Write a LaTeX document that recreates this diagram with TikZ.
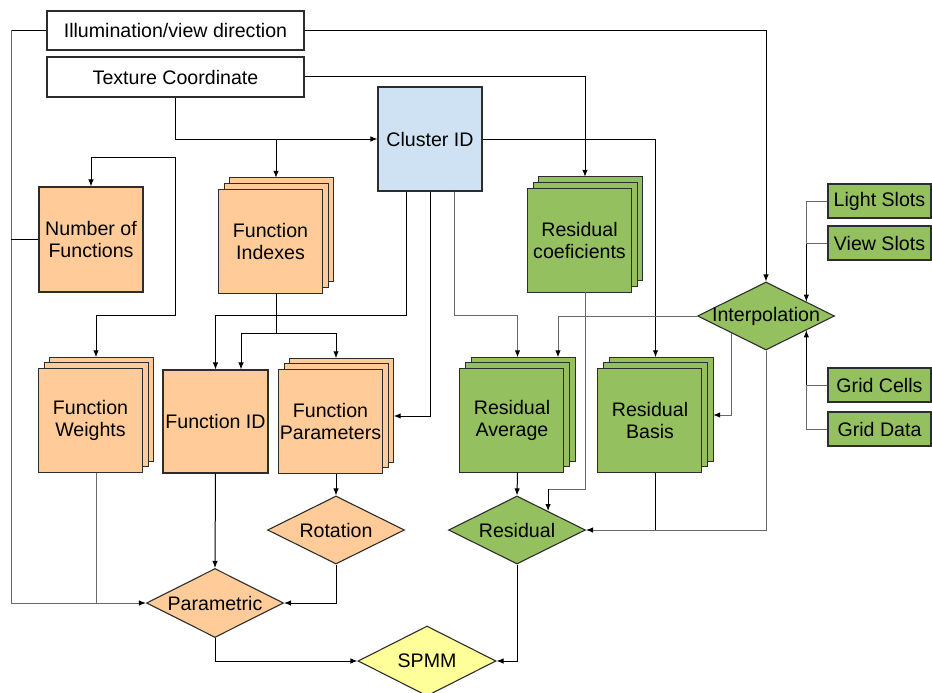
\documentclass[tikz,border=0pt]{standalone}
\usepackage{fontspec}
\setmainfont{Liberation Sans}
\usetikzlibrary{arrows.meta,calc,shapes.geometric}
\definecolor{orangef}{RGB}{255,204,153}
\definecolor{greenf}{RGB}{148,192,96}
\definecolor{bluef}{RGB}{207,226,243}
\definecolor{yellowf}{RGB}{255,255,153}
\definecolor{boxline}{RGB}{45,45,45}
\definecolor{lineg}{RGB}{105,105,105}
\newcommand{\dfont}{\fontsize{19.6}{22}\selectfont}
\tikzset{
  box/.style={draw=boxline, line width=1.1pt, inner sep=0pt, align=center, font=\dfont},
  layer/.style={draw=boxline, line width=1.1pt},
  txt/.style={inner sep=0pt, align=center, font=\dfont},
  dia/.style={draw=boxline, line width=1.1pt, shape=diamond, inner sep=0pt, minimum width=137pt, minimum height=68pt},
  conn/.style={line width=1pt, draw=black},
  conng/.style={line width=1pt, draw=lineg},
  arr/.style={-{Latex[length=7pt,width=5.5pt,color=black]}},
}
\newcommand{\mystack}[4]{%
  \node[inner sep=0pt, minimum width=115pt, minimum height=115pt] (#1) at #2 {};
  \draw[layer, fill=#3] (#1.north east) rectangle ++(-104,104);
  \draw[layer, fill=#3] ($(#1.north east)+(-5.5,5.5)$) rectangle ++(-104,104);
  \draw[layer, fill=#3] (#1.south west) rectangle ++(104,-104);
  \node[txt] at ($(#1.center)+(-5.5,5.5)$) {#4};
}
\begin{document}
\begin{tikzpicture}[x=1pt,y=-1pt]
\useasboundingbox (0,0) rectangle (932,693);
% top boxes
\node[box, minimum width=257pt, minimum height=39pt] (illum) at (175.5,30.5) {Illumination/view direction};
\node[box, minimum width=257pt, minimum height=40pt] (tex) at (175.5,77) {Texture Coordinate};
\node[box, fill=bluef, minimum width=104pt, minimum height=104pt] (cluster) at (430,139) {Cluster ID};
\node[box, fill=orangef, minimum width=104pt, minimum height=105pt] (nfun) at (91,239.5) {Number of\\Functions};
\node[box, fill=orangef, minimum width=105pt, minimum height=103pt] (fid) at (215.5,421.5) {Function ID};
% stacks
\mystack{findex}{(276,235.5)}{orangef}{Function\\Indexes}
\mystack{fweights}{(96,415)}{orangef}{Function\\Weights}
\mystack{fparams}{(336,416)}{orangef}{Function\\Parameters}
\mystack{rcoef}{(585,234.5)}{greenf}{Residual\\coeficients}
\mystack{ravg}{(517.5,415)}{greenf}{Residual\\Average}
\mystack{rbasis}{(655.5,415)}{greenf}{Residual\\Basis}
% right boxes
\node[box, fill=greenf, minimum width=103pt, minimum height=34pt] (lights) at (879.5,201) {Light Slots};
\node[box, fill=greenf, minimum width=103pt, minimum height=34pt] (views) at (879.5,243) {View Slots};
\node[box, fill=greenf, minimum width=103pt, minimum height=34pt] (gridc) at (879.5,385) {Grid Cells};
\node[box, fill=greenf, minimum width=103pt, minimum height=34pt] (gridd) at (879.5,429) {Grid Data};
% diamonds
\node[dia, fill=greenf] (interp) at (766,316) {};
\node[txt] at (interp) {Interpolation};
\node[dia, fill=greenf] (residual) at (517,530) {};
\node[txt] at (residual) {Residual};
\node[dia, fill=orangef] (rotation) at (336,530) {};
\node[txt] at (rotation) {Rotation};
\node[dia, fill=orangef, minimum height=69pt] (param) at (215,603) {};
\node[txt] at (param) {Parametric};
\node[dia, fill=yellowf, minimum width=138pt, minimum height=70pt] (spmm) at (427,661) {};
\node[txt] at (spmm) {SPMM};
% helper coordinates
\coordinate (L) at ($(illum.west)+(-35,0)$);
\coordinate (P) at ($(interp.north)!0.584!(interp.east)$);
\coordinate (Q) at ($(interp.south)!0.584!(interp.east)$);
\coordinate (R) at ($(residual.north)!0.45!(residual.east)$);
\coordinate (TB) at ($(tex.south)+(0,60)$);
\coordinate (FB) at ($(findex.south)+(0,40)$);
% illumination connectors
\draw[conn] (illum.west) -- (L);
\draw[conng, arr] (L) |- (param.west);
\draw[conn] (nfun.west) -- (nfun.west -| L);
\draw[conng] (fweights.south) -- (fweights.south |- param.west);
\draw[conn, arr] (illum.east) -| (interp.north);
% texture connectors
\draw[conn, arr] (tex.south) |- (cluster.west);
\draw[conn, arr] (TB) -| (nfun.north);
\draw[conn, arr] (TB) -- ($(tex.south)+(0,218)$) -| (fweights.north);
\draw[conn, arr] (findex.north |- cluster.west) -- (findex.north);
\draw[conn, arr] (tex.east) -| (rcoef.north);
% function indexes
\draw[conn] (findex.south) -- (FB);
\draw[conn, arr] (FB) -| ($(fid.north)+(25.5,0)$);
\draw[conn, arr] (FB) -| (fparams.north);
% cluster connectors
\draw[conn, arr] ($(cluster.south)+(-24,0)$) -- ++(0,124) -| (fid.north);
\draw[conn, arr] (cluster.south) |- (fparams.east);
\draw[conng, arr] ($(cluster.south)+(24,0)$) -- ++(0,124) -| (ravg.north);
\draw[conn, arr] (cluster.east) -| (rbasis.north);
% interpolation connectors
\draw[conng, arr] (interp.west) -| ($(ravg.north)+(40.5,0)$);
\draw[conng, arr] (interp.south west) |- (rbasis.east);
\draw[conng, arr] (interp.south) |- (residual.east);
\draw[conn] (rbasis.south) -- (rbasis.south |- residual.east);
\draw[conng] (lights.west) -| (P);
\draw[conn, arr] (views.west -| P) -- (P);
\draw[conng] (views.west) -- (views.west -| P);
\draw[conng] (gridd.west) -| (Q);
\draw[conn, arr] (gridc.west -| Q) -- (Q);
\draw[conng] (gridc.west) -- (gridc.west -| Q);
% residual
\draw[conng] (rcoef.south) |- ($(R)+(0,-22)$);
\draw[conn, arr] ($(R)+(0,-22)$) -- (R);
\draw[conn, arr] (ravg.south) -- (residual.north);
% function side
\draw[conn, arr] (fparams.south) -- (rotation.north);
\draw[conn, arr] (rotation.south) |- (param.east);
\draw[conn, arr] (fid.south) -- (param.north);
% to SPMM
\draw[conn, arr] (param.south) |- (spmm.west);
\draw[conn, arr] (residual.south) |- (spmm.east);
\end{tikzpicture}
\end{document}
